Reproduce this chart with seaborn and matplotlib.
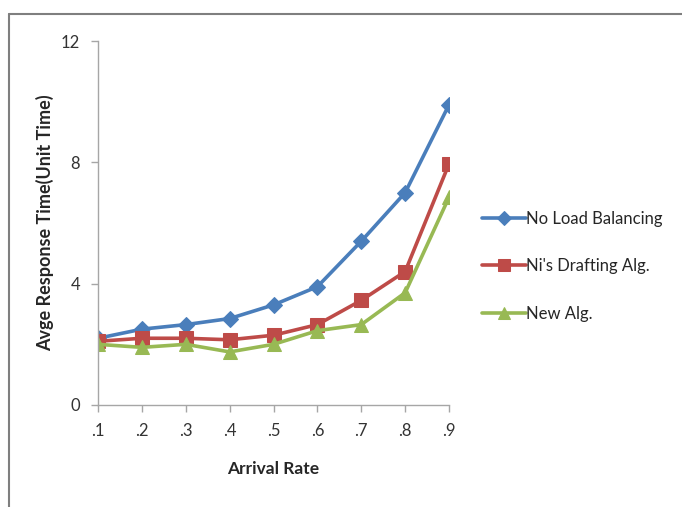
import pandas as pd
import matplotlib.pyplot as plt
from matplotlib.lines import Line2D
import seaborn as sns

# data
arrival_rate = [0.1, 0.2, 0.3, 0.4, 0.5, 0.6, 0.7, 0.8, 0.9]
tick_labels = [".1", ".2", ".3", ".4", ".5", ".6", ".7", ".8", ".9"]
no_load_balancing = [2.2, 2.5, 2.65, 2.85, 3.3, 3.9, 5.4, 7.0, 9.9]
ni_drafting = [2.1, 2.2, 2.2, 2.15, 2.3, 2.65, 3.45, 4.4, 7.95]
new_alg = [2.0, 1.9, 2.0, 1.75, 2.0, 2.45, 2.65, 3.7, 6.85]

series = {
    "No Load Balancing": no_load_balancing,
    "Ni's Drafting Alg.": ni_drafting,
    "New Alg.": new_alg,
}
colors = ["#4a7ebb", "#be4b48", "#98b954"]
markers = ["D", "s", "^"]
msizes = [8.5, 10.5, 10.5]

sns.set_style("white")
plt.rcParams["font.family"] = ["Lato", "DejaVu Sans"]

fig = plt.figure(figsize=(6.82, 5.07), dpi=100)
ax = fig.add_axes([0.1437, 0.2012, 0.6584 - 0.1437, 0.9191 - 0.2012])

for (name, vals), c, m, ms in zip(series.items(), colors, markers, msizes):
    df = pd.DataFrame({"x": arrival_rate, "y": vals})
    sns.lineplot(data=df, x="x", y="y", ax=ax, color=c, marker=m, markersize=ms,
                 markeredgecolor=c, linewidth=2.6, label=name)

ax.set_xlim(0.1, 0.9)
ax.set_ylim(0, 12)
ax.set_xticks(arrival_rate)
ax.set_xticklabels(tick_labels, fontsize=12, color="#333333")
ax.set_yticks([0, 4, 8, 12])
ax.set_yticklabels(["0", "4", "8", "12"], fontsize=12, color="#333333")
ax.tick_params(axis="both", direction="out", length=5, width=1, color="#a6a6a6",
               left=True, bottom=True)
ax.tick_params(axis="x", pad=8)
ax.tick_params(axis="y", pad=8)
for side in ["top", "right"]:
    ax.spines[side].set_visible(False)
for side in ["left", "bottom"]:
    ax.spines[side].set_color("#a6a6a6")
    ax.spines[side].set_linewidth(1)

ax.set_xlabel("Arrival Rate", fontsize=12.5, fontweight="bold", labelpad=16)
ax.set_ylabel("Avge Response Time(Unit Time)", fontsize=13, fontweight="bold", labelpad=5)

ax.get_legend().remove()
handles, labels = ax.get_legend_handles_labels()
fig.legend(handles, labels, loc="center left", bbox_to_anchor=(0.685, 0.475),
           frameon=False, fontsize=12, labelspacing=1.9, handlelength=2.6,
           handletextpad=0.05, markerscale=0.85)

# outer chart-area frame, partly cropped like the reference
fig.add_artist(Line2D([9 / 682, 9 / 682], [0, 1 - 14 / 507], transform=fig.transFigure,
                      color="#7f7f7f", linewidth=1.5))
fig.add_artist(Line2D([9 / 682, 1], [1 - 14 / 507, 1 - 14 / 507], transform=fig.transFigure,
                      color="#7f7f7f", linewidth=1.5))

fig.savefig("out.png", dpi=100)
